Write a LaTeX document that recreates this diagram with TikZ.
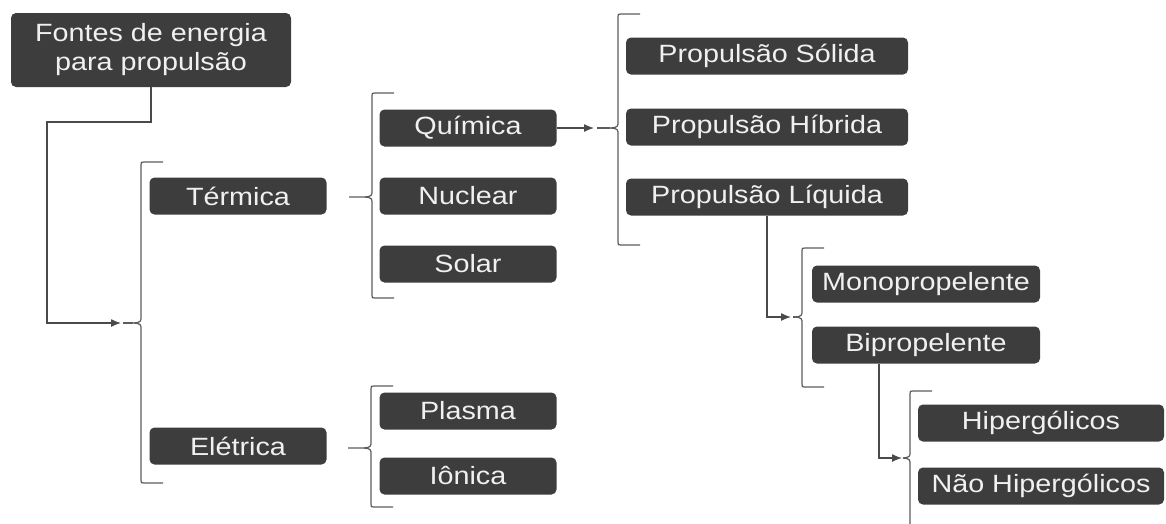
\documentclass[tikz,border=0pt]{standalone}
\usepackage{fontspec}
\setmainfont{Liberation Sans}[FakeStretch=1.15]
\usetikzlibrary{arrows.meta}
\definecolor{boxgray}{HTML}{3D3D3D}
\definecolor{linegray}{HTML}{4A4A4A}
\tikzset{
	box/.style={fill=boxgray, text=white!94!black, rounded corners=5pt, inner sep=0pt, minimum height=37pt, minimum width=177pt, font=\fontsize{25}{29}\selectfont},
	conn/.style={draw=linegray, line width=1.3pt, -{Latex[length=10pt,width=8pt]}},
	brk/.style={draw=linegray!90, line width=1.2pt},
}
% bracket: (x)(top:mid:bot)(nose)(name of tip)
\def\bracket(#1)(#2:#3:#4)(#5)(#6){
	\draw[brk] (#1+22,#2) -- (#1+3,#2) .. controls (#1,#2) .. (#1,#2+3) -- (#1,#3-7) .. controls (#1,#3-1) .. (#1-7,#3) -- (#1-#5,#3);
	\draw[brk] (#1+22,#4) -- (#1+3,#4) .. controls (#1,#4) .. (#1,#4-3) -- (#1,#3+7) .. controls (#1,#3+1) .. (#1-7,#3);
	\coordinate (#6) at (#1-#5,#3);
}
\begin{document}
\begin{tikzpicture}[x=1pt, y=-1pt]
	\useasboundingbox (0,0) rectangle (1166,523);
	
	%%% boxes
	\node[box, minimum width=280pt, minimum height=74pt, align=center] (root) at (151,50) {Fontes de energia\\para propulsão};
	
	\node[box] (term) at (238,196) {Térmica};
	\node[box] (elet) at (238,446) {Elétrica};
	
	\node[box] (quim) at (468,128) {Química};
	\node[box] (nucl) at (468,196) {Nuclear};
	\node[box] (sola) at (468,264) {Solar};
	\node[box] (plas) at (468,411) {Plasma};
	\node[box] (ioni) at (468,476) {Iônica};
	
	\node[box, minimum width=282pt] (psol) at (767,56) {Propulsão Sólida};
	\node[box, minimum width=282pt] (phib) at (767,127) {Propulsão Híbrida};
	\node[box, minimum width=282pt] (pliq) at (767,197) {Propulsão Líquida};
	
	\node[box, minimum width=228pt] (mono) at (926,284) {Monopropelente};
	\node[box, minimum width=228pt] (bipr) at (926,345) {Bipropelente};
	
	\node[box, minimum width=246pt] (hipe) at (1041,423) {Hipergólicos};
	\node[box, minimum width=246pt] (nhip) at (1041,486) {Não Hipergólicos};
	
	%%% brackets
	\bracket(141)(162:323:483)(8)(t1)
	\bracket(372)(93:197:298)(23)(t2)
	\bracket(371)(386:448:507)(23)(t3)
	\bracket(618)(14:128:245)(8)(t4)
	\bracket(802)(248:317:387)(7)(t5)
	\bracket(910)(391:458:530)(5)(t6)
	
	%%% connectors
	\coordinate (a1) at (121,323);
	\coordinate (a4) at (594,128);
	\coordinate (a5) at (791,317);
	\coordinate (a6) at (902,458);
	
	\draw[conn] (root.south) |- (47,122) |- (a1);
	\draw[brk] ([xshift=2pt]a1) -- (t1);
	
	\draw[conn] (quim.east) -- (a4);
	\draw[brk] ([xshift=3pt]a4) -- (t4);
	
	\draw[conn] (pliq.south) |- (a5);
	\draw[brk] ([xshift=2pt]a5) -- (t5);
	
	\draw[conn] ([xshift=-47pt]bipr.south) |- (a6);
	\draw[brk] ([xshift=2pt]a6) -- (t6);
\end{tikzpicture}
\end{document}
